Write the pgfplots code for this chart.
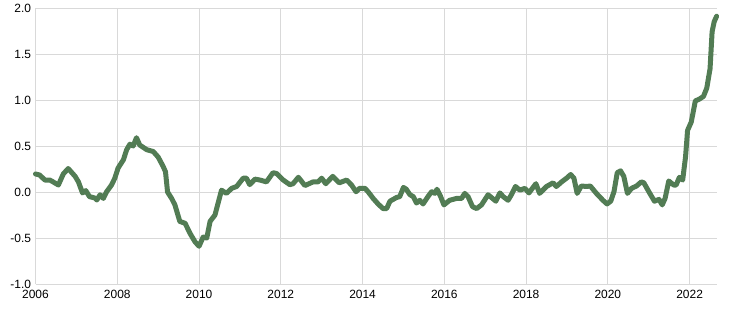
\documentclass[border=0pt]{standalone}
\usepackage{fontspec}
\setmainfont{Liberation Sans}
\usepackage{pgfplots}
\pgfplotsset{compat=1.18}
\definecolor{lineg}{RGB}{82,124,84}
\definecolor{gridg}{RGB}{217,217,217}
\begin{document}
\begin{tikzpicture}
\begin{axis}[
  name=ax,
  scale only axis,
  width=681.5bp, height=276bp,
  xmin=2006, xmax=2022.67,
  ymin=-1, ymax=2,
  xtick={2006,2008,...,2022},
  xticklabels={2006,2008,2010,2012,2014,2016,2018,2020,2022},
  ytick={-1,-0.5,0,0.5,1,1.5,2},
  yticklabels={-1.0,-0.5,0.0,0.5,1.0,1.5,2.0},
  grid=major,
  major grid style={draw=gridg, line width=0.9bp},
  axis line style={draw=none},
  major tick length=0pt,
  tick label style={font=\fontsize{12}{14}\selectfont, text=black},
  xticklabel style={yshift=-3bp},
  yticklabel style={xshift=-1bp},
  clip=false,
]
\addplot[color=lineg, line width=5bp, line join=round, line cap=round] coordinates {
(2006.0,0.196)(2006.1,0.185)(2006.23,0.13)(2006.35,0.13)(2006.43,0.11)(2006.56,0.076)
(2006.68,0.196)(2006.8,0.255)(2006.97,0.17)(2007.05,0.11)(2007.15,-0.01)(2007.23,0.015)
(2007.32,-0.05)(2007.45,-0.065)(2007.5,-0.087)(2007.58,-0.03)(2007.66,-0.07)(2007.74,0.003)
(2007.86,0.076)(2007.94,0.15)(2008.02,0.26)(2008.15,0.35)(2008.23,0.46)(2008.31,0.52)
(2008.39,0.50)(2008.47,0.59)(2008.55,0.51)(2008.72,0.46)(2008.88,0.44)(2009.0,0.38)
(2009.12,0.28)(2009.18,0.22)(2009.23,0.0)(2009.33,-0.07)(2009.41,-0.14)(2009.53,-0.32)
(2009.66,-0.34)(2009.78,-0.45)(2009.9,-0.54)(2010.0,-0.59)(2010.1,-0.49)(2010.19,-0.50)
(2010.27,-0.32)(2010.39,-0.25)(2010.55,0.02)(2010.67,-0.015)(2010.8,0.04)(2010.92,0.06)
(2011.08,0.15)(2011.16,0.15)(2011.24,0.08)(2011.37,0.14)(2011.49,0.13)(2011.65,0.11)
(2011.81,0.21)(2011.9,0.20)(2012.06,0.13)(2012.22,0.08)(2012.3,0.09)(2012.43,0.16)
(2012.59,0.07)(2012.79,0.11)(2012.91,0.11)(2013.0,0.15)(2013.1,0.09)(2013.27,0.17)
(2013.43,0.10)(2013.61,0.13)(2013.73,0.076)(2013.84,0.003)(2013.93,0.04)(2014.06,0.04)
(2014.14,0.0)(2014.26,-0.07)(2014.38,-0.13)(2014.5,-0.18)(2014.59,-0.18)(2014.67,-0.10)
(2014.83,-0.06)(2014.91,-0.05)(2015.0,0.05)(2015.07,0.03)(2015.16,-0.03)(2015.24,-0.05)
(2015.32,-0.12)(2015.4,-0.09)(2015.48,-0.13)(2015.6,-0.05)(2015.69,0.003)(2015.77,-0.015)
(2015.82,0.03)(2015.91,-0.05)(2015.99,-0.14)(2016.13,-0.09)(2016.3,-0.07)(2016.42,-0.07)
(2016.5,-0.015)(2016.58,-0.05)(2016.69,-0.16)(2016.79,-0.18)(2016.91,-0.14)(2017.07,-0.03)
(2017.18,-0.07)(2017.26,-0.10)(2017.36,-0.01)(2017.44,-0.05)(2017.56,-0.09)(2017.64,-0.03)
(2017.74,0.06)(2017.85,0.02)(2017.97,0.04)(2018.07,-0.01)(2018.24,0.09)(2018.33,-0.015)
(2018.5,0.06)(2018.66,0.10)(2018.74,0.06)(2018.87,0.11)(2018.99,0.15)(2019.09,0.19)
(2019.17,0.15)(2019.25,-0.015)(2019.35,0.065)(2019.48,0.06)(2019.57,0.065)(2019.72,-0.015)
(2019.88,-0.09)(2019.98,-0.13)(2020.07,-0.10)(2020.15,0.003)(2020.23,0.21)(2020.31,0.23)
(2020.39,0.17)(2020.48,-0.015)(2020.58,0.04)(2020.7,0.065)(2020.82,0.11)(2020.88,0.10)
(2021.02,-0.01)(2021.14,-0.10)(2021.25,-0.08)(2021.33,-0.14)(2021.4,-0.07)(2021.49,0.12)
(2021.61,0.076)(2021.67,0.076)(2021.75,0.16)(2021.83,0.13)(2021.9,0.38)(2021.95,0.67)
(2022.04,0.76)(2022.14,0.99)(2022.24,1.01)(2022.34,1.04)(2022.42,1.13)(2022.5,1.34)
(2022.55,1.74)(2022.6,1.85)(2022.66,1.91)
};
\end{axis}
\pgfresetboundingbox
\path ([xshift=-35.5bp,yshift=-29bp]ax.south west) rectangle ([xshift=33bp,yshift=8bp]ax.north east);
\end{tikzpicture}
\end{document}
